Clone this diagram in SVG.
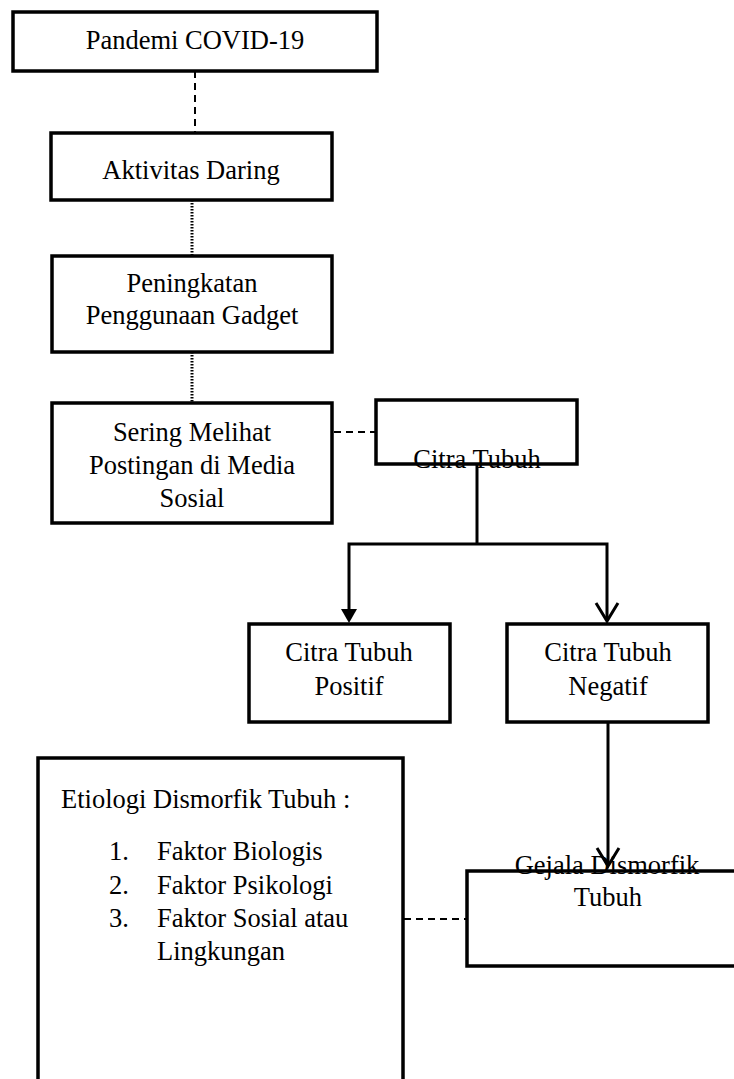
<svg xmlns="http://www.w3.org/2000/svg" width="734" height="1079" viewBox="0 0 734 1079">
<style>
.box{fill:#fff;stroke:#000;stroke-width:3.5}
.t{font-family:"Liberation Serif","Times New Roman",serif;font-size:26.5px;fill:#000}
.c{text-anchor:middle}
.dash{stroke:#000;stroke-width:2;fill:none;stroke-dasharray:7 5}
.dot{stroke:#000;stroke-width:3;fill:none;stroke-dasharray:1.5 1.5}
.ln{stroke:#000;stroke-width:3;fill:none}
</style>
<defs>
<marker id="fill" markerUnits="userSpaceOnUse" markerWidth="16" markerHeight="16" refX="8" refY="14" orient="auto-start-reverse" viewBox="0 0 16 16">
<path d="M1,0 L15,0 L8,14 Z" fill="#000" transform="rotate(0)"/>
</marker>
<marker id="open" markerUnits="userSpaceOnUse" markerWidth="26" markerHeight="22" refX="11" refY="19" viewBox="0 0 22 22">
<path d="M1,1 L11,19 L21,1" fill="none" stroke="#000" stroke-width="3"/>
</marker>
</defs>
<g id="connectors">
<line class="dash" x1="195" y1="71" x2="195" y2="133"/>
<line class="dot" x1="192" y1="200" x2="192" y2="256"/>
<line class="dot" x1="192" y1="352" x2="192" y2="403"/>
<line class="dash" x1="334" y1="432" x2="376" y2="432"/>
<polyline class="ln" points="477,464 477,544"/>
<path class="ln" d="M477,544 H349 V609"/>
<path d="M341,609 L357,609 L349,623 Z" fill="#000"/>
<path class="ln" d="M477,544 H607 V621"/>
<path d="M596,603 L607,621 L618,603" fill="none" stroke="#000" stroke-width="3"/>
<line class="ln" x1="608" y1="722" x2="608" y2="866"/>
<path d="M597,848 L608,866 L619,848" fill="none" stroke="#000" stroke-width="3"/>
<line class="dash" x1="404" y1="919" x2="467" y2="919"/>
</g>
<g id="n1">
<rect class="box" x="13" y="12" width="364" height="59"/>
<text class="t c" x="195" y="49">Pandemi COVID-19</text>
</g>
<g id="n2">
<rect class="box" x="51" y="133" width="281" height="67"/>
<text class="t c" x="191" y="179">Aktivitas Daring</text>
</g>
<g id="n3">
<rect class="box" x="52" y="256" width="280" height="96"/>
<text class="t c" x="192" y="292">Peningkatan</text>
<text class="t c" x="192" y="324">Penggunaan Gadget</text>
</g>
<g id="n4">
<rect class="box" x="52" y="403" width="280" height="120"/>
<text class="t c" x="192" y="441">Sering Melihat</text>
<text class="t c" x="192" y="474">Postingan di Media</text>
<text class="t c" x="192" y="507">Sosial</text>
</g>
<g id="n5">
<rect class="box" x="376" y="400" width="201" height="64"/>
<text class="t c" x="477" y="468">Citra Tubuh</text>
</g>
<g id="n6">
<rect class="box" x="249" y="624" width="201" height="98"/>
<text class="t c" x="349" y="661">Citra Tubuh</text>
<text class="t c" x="349" y="695">Positif</text>
</g>
<g id="n7">
<rect class="box" x="507" y="624" width="201" height="98"/>
<text class="t c" x="608" y="661">Citra Tubuh</text>
<text class="t c" x="608" y="695">Negatif</text>
</g>
<g id="n8">
<rect class="box" x="38" y="758" width="365" height="330"/>
<text class="t" x="61" y="808">Etiologi Dismorfik Tubuh :</text>
<text class="t" x="109" y="860">1.</text>
<text class="t" x="157" y="860">Faktor Biologis</text>
<text class="t" x="109" y="894">2.</text>
<text class="t" x="157" y="894">Faktor Psikologi</text>
<text class="t" x="109" y="927">3.</text>
<text class="t" x="157" y="927">Faktor Sosial atau</text>
<text class="t" x="157" y="960">Lingkungan</text>
</g>
<g id="n9">
<rect class="box" x="467" y="871" width="280" height="95"/>
<text class="t c" x="607" y="874">Gejala Dismorfik</text>
<text class="t c" x="608" y="906">Tubuh</text>
</g>
</svg>
